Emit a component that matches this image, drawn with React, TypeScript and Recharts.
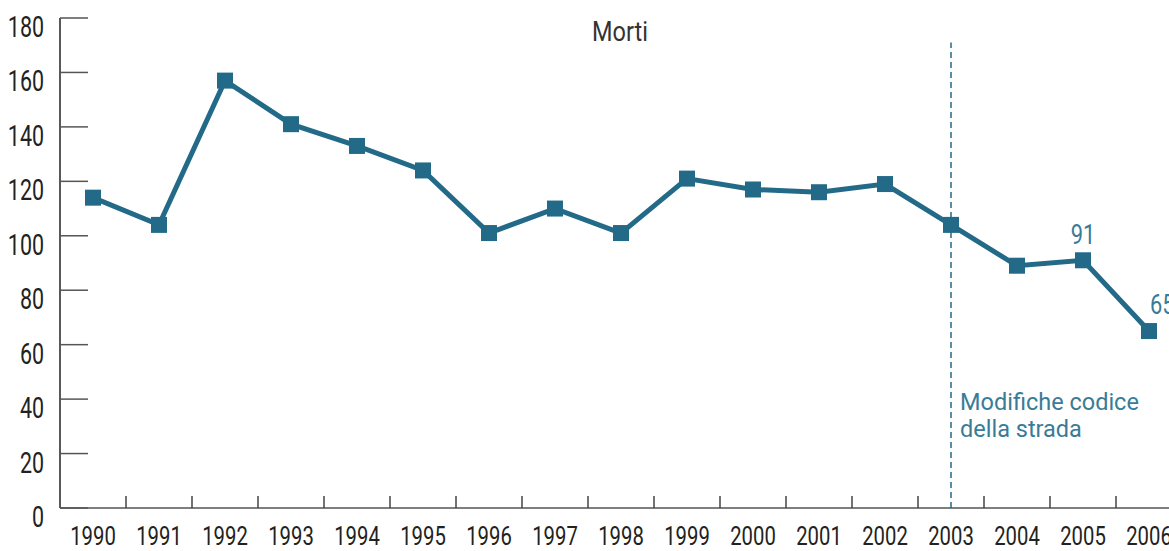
import React from 'react';
import { LineChart, Line, XAxis, YAxis, ReferenceLine, LabelList } from 'recharts';

const years = ['1990', '1991', '1992', '1993', '1994', '1995', '1996', '1997', '1998', '1999', '2000', '2001', '2002', '2003', '2004', '2005', '2006'];
const deaths = [114, 104, 157, 141, 133, 124, 101, 110, 101, 121, 117, 116, 119, 104, 89, 91, 65];
// etichette mostrate solo sugli ultimi due anni
const shownLabels = [null, null, null, null, null, null, null, null, null, null, null, null, null, null, null, 91, 65];
const yTicks = [0, 20, 40, 60, 80, 100, 120, 140, 160, 180];
const markerYear = '2003';
const markerTop = 171;
const markerNote = ['Modifiche codice', 'della strada'];
const title = 'Morti';

const data = years.map((year, i) => ({ year, deaths: deaths[i], label: shownLabels[i] }));

const LINE = '#236a88';
const NOTE = '#3a7b97';
const INK = '#222';
const BAND = 66;

// testo "condensato": Roboto compresso in orizzontale
const CText = ({ x, y, size, fill, anchor = 'start', squeeze = 0.74, children }: any) => (
  <text
    transform={`translate(${x},${y}) scale(${squeeze},1)`}
    x={0}
    y={0}
    textAnchor={anchor}
    fontFamily="Roboto, sans-serif"
    fontSize={size}
    fill={fill}
  >
    {children}
  </text>
);

const YTick = (props: any) => {
  const { x, y, payload } = props;
  return (
    <g>
      <line x1={x} x2={x + 28} y1={y} y2={y} stroke="#555" strokeWidth={1.5} />
      <CText x={x - 16} y={y + 19} size={29} fill={INK} anchor="end">
        {payload.value}
      </CText>
    </g>
  );
};

const XTick = (props: any) => {
  const { x, y, payload, index } = props;
  return (
    <g>
      {index < years.length - 1 && (
        <line x1={x + BAND / 2} x2={x + BAND / 2} y1={y} y2={y - 12} stroke="#444" strokeWidth={1.5} />
      )}
      <CText x={x} y={y + 37} size={26} fill={INK} anchor="middle" squeeze={0.78}>
        {payload.value}
      </CText>
    </g>
  );
};

const SquareDot = (props: any) => {
  const { cx, cy, index } = props;
  if (cx == null || cy == null) return null;
  return <rect key={`dot-${index}`} x={cx - 8} y={cy - 8} width={16} height={16} fill={LINE} />;
};

const ValueLabel = (props: any) => {
  const { x, y, value, index } = props;
  if (value == null) return null;
  const last = index === years.length - 1;
  return (
    <CText
      x={last ? x + 1 : x}
      y={last ? y - 17 : y - 16}
      anchor={last ? 'start' : 'middle'}
      size={28}
      fill={NOTE}
      squeeze={0.78}
    >
      {value}
    </CText>
  );
};

const NoteLabel = (props: any) => {
  const { viewBox } = props;
  const x = viewBox.x + 9;
  const bottom = viewBox.y + viewBox.height;
  return (
    <text fontFamily="Roboto, sans-serif" fontSize={23.5} fill={NOTE}>
      <tspan x={x} y={bottom - 98}>{markerNote[0]}</tspan>
      <tspan x={x} y={bottom - 71}>{markerNote[1]}</tspan>
    </text>
  );
};

export default function App() {
  return (
    <div style={{ position: 'absolute', left: 0, top: 0, width: 1169, height: 551, overflow: 'hidden', background: '#fff' }}>
      <LineChart width={1182} height={551} data={data} margin={{ top: 18, right: 0, bottom: 0, left: 0 }}>
        <XAxis
          dataKey="year"
          scale="band"
          height={43}
          axisLine={{ stroke: '#555', strokeWidth: 1.5 }}
          tickLine={false}
          tickSize={0}
          tickMargin={0}
          interval={0}
          tick={<XTick />}
        />
        <YAxis
          width={60}
          domain={[0, 180]}
          ticks={yTicks}
          axisLine={{ stroke: INK, strokeWidth: 1.5 }}
          tickLine={false}
          tickSize={0}
          tickMargin={0}
          tick={<YTick />}
        />
        <ReferenceLine
          segment={[{ x: markerYear, y: 0 }, { x: markerYear, y: markerTop }]}
          stroke={LINE}
          strokeWidth={1.5}
          strokeDasharray="6 4"
          label={<NoteLabel />}
        />
        <Line
          type="linear"
          dataKey="deaths"
          stroke={LINE}
          strokeWidth={5}
          dot={<SquareDot />}
          activeDot={false}
          isAnimationActive={false}
        >
          <LabelList dataKey="label" content={<ValueLabel />} />
        </Line>
        <CText x={620} y={41} size={28} fill="#333" anchor="middle" squeeze={0.84}>
          {title}
        </CText>
      </LineChart>
    </div>
  );
}
